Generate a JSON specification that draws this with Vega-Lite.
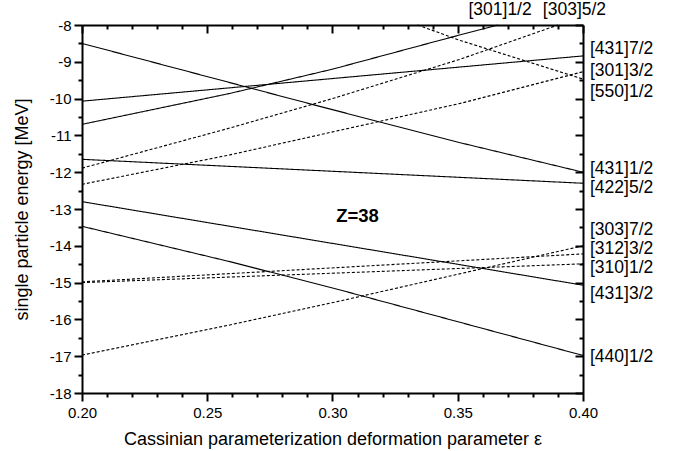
{
  "$schema": "https://vega.github.io/schema/vega-lite/v6.json",
  "width": 501,
  "height": 368,
  "autosize": {"type": "none"},
  "padding": {"left": 82, "top": 25, "right": 98, "bottom": 58},
  "background": "white",
  "config": {
    "view": {"stroke": null},
    "font": "Liberation Sans",
    "axis": {
      "grid": false,
      "domainColor": "black",
      "domainWidth": 2,
      "tickColor": "black",
      "labelColor": "black",
      "titleColor": "black",
      "labelFont": "Liberation Sans",
      "titleFont": "Liberation Sans",
      "labelFontSize": 15,
      "titleFontSize": 18,
      "titleFontWeight": "normal",
      "labelOverlap": false,
      "labelFlush": false,
      "labelBound": false
    }
  },
  "datasets": {
    "levels": [
      {"state": "[431]1/2", "kind": "solid", "eps": 0.20, "E": -8.50},
      {"state": "[431]1/2", "kind": "solid", "eps": 0.292, "E": -10.16},
      {"state": "[431]1/2", "kind": "solid", "eps": 0.351, "E": -11.20},
      {"state": "[431]1/2", "kind": "solid", "eps": 0.40, "E": -12.00},
      {"state": "[431]7/2", "kind": "solid", "eps": 0.20, "E": -10.07},
      {"state": "[431]7/2", "kind": "solid", "eps": 0.40, "E": -8.84},
      {"state": "[301]1/2", "kind": "solid", "eps": 0.20, "E": -10.70},
      {"state": "[301]1/2", "kind": "solid", "eps": 0.259, "E": -9.86},
      {"state": "[301]1/2", "kind": "solid", "eps": 0.30, "E": -9.20},
      {"state": "[301]1/2", "kind": "solid", "eps": 0.347, "E": -8.34},
      {"state": "[301]1/2", "kind": "solid", "eps": 0.366, "E": -8.00},
      {"state": "[422]5/2", "kind": "solid", "eps": 0.20, "E": -11.65},
      {"state": "[422]5/2", "kind": "solid", "eps": 0.40, "E": -12.30},
      {"state": "[431]3/2", "kind": "solid", "eps": 0.20, "E": -12.80},
      {"state": "[431]3/2", "kind": "solid", "eps": 0.40, "E": -15.07},
      {"state": "[440]1/2", "kind": "solid", "eps": 0.20, "E": -13.47},
      {"state": "[440]1/2", "kind": "solid", "eps": 0.259, "E": -14.43},
      {"state": "[440]1/2", "kind": "solid", "eps": 0.303, "E": -15.20},
      {"state": "[440]1/2", "kind": "solid", "eps": 0.40, "E": -16.98},
      {"state": "[303]5/2", "kind": "dashed", "eps": 0.20, "E": -11.89},
      {"state": "[303]5/2", "kind": "dashed", "eps": 0.259, "E": -10.80},
      {"state": "[303]5/2", "kind": "dashed", "eps": 0.30, "E": -10.00},
      {"state": "[303]5/2", "kind": "dashed", "eps": 0.351, "E": -8.93},
      {"state": "[303]5/2", "kind": "dashed", "eps": 0.39, "E": -8.00},
      {"state": "[301]3/2", "kind": "dashed", "eps": 0.20, "E": -12.33},
      {"state": "[301]3/2", "kind": "dashed", "eps": 0.259, "E": -11.53},
      {"state": "[301]3/2", "kind": "dashed", "eps": 0.351, "E": -10.13},
      {"state": "[301]3/2", "kind": "dashed", "eps": 0.40, "E": -9.27},
      {"state": "[550]1/2", "kind": "dashed", "eps": 0.334, "E": -8.00},
      {"state": "[550]1/2", "kind": "dashed", "eps": 0.351, "E": -8.42},
      {"state": "[550]1/2", "kind": "dashed", "eps": 0.40, "E": -9.47},
      {"state": "[303]7/2", "kind": "dashed", "eps": 0.20, "E": -16.97},
      {"state": "[303]7/2", "kind": "dashed", "eps": 0.259, "E": -16.15},
      {"state": "[303]7/2", "kind": "dashed", "eps": 0.303, "E": -15.50},
      {"state": "[303]7/2", "kind": "dashed", "eps": 0.40, "E": -14.00},
      {"state": "[312]3/2", "kind": "dashed", "eps": 0.20, "E": -14.98},
      {"state": "[312]3/2", "kind": "dashed", "eps": 0.40, "E": -14.22},
      {"state": "[310]1/2", "kind": "dashed", "eps": 0.20, "E": -15.00},
      {"state": "[310]1/2", "kind": "dashed", "eps": 0.40, "E": -14.49}
    ],
    "sideLabels": [
      {"label": "[431]7/2", "eps": 0.40, "E": -8.65},
      {"label": "[301]3/2", "eps": 0.40, "E": -9.24},
      {"label": "[550]1/2", "eps": 0.40, "E": -9.82},
      {"label": "[431]1/2", "eps": 0.40, "E": -11.90},
      {"label": "[422]5/2", "eps": 0.40, "E": -12.42},
      {"label": "[303]7/2", "eps": 0.40, "E": -13.57},
      {"label": "[312]3/2", "eps": 0.40, "E": -14.09},
      {"label": "[310]1/2", "eps": 0.40, "E": -14.61},
      {"label": "[431]3/2", "eps": 0.40, "E": -15.31},
      {"label": "[440]1/2", "eps": 0.40, "E": -17.01}
    ],
    "topLabels": [
      {"label": "[301]1/2", "eps": 0.3669, "E": -7.59},
      {"label": "[303]5/2", "eps": 0.3966, "E": -7.59}
    ],
    "note": [
      {"label": "Z=38", "eps": 0.310, "E": -13.19}
    ]
  },
  "layer": [
    {
      "data": {"name": "levels"},
      "mark": {"type": "line", "color": "black", "strokeWidth": 1.1},
      "encoding": {
        "x": {
          "field": "eps", "type": "quantitative",
          "scale": {"domain": [0.2, 0.4], "nice": false, "zero": false},
          "axis": {
            "orient": "bottom",
            "title": "Cassinian parameterization deformation parameter ε",
            "titleY": 51,
            "titleBaseline": "alphabetic",
            "values": [0.2, 0.21, 0.22, 0.23, 0.24, 0.25, 0.26, 0.27, 0.28, 0.29, 0.3, 0.31, 0.32, 0.33, 0.34, 0.35, 0.36, 0.37, 0.38, 0.39, 0.4],
            "labelExpr": "round(datum.value * 100) % 5 == 0 ? format(datum.value, '.2f') : ''",
            "tickSize": {"condition": {"test": "round(datum.value * 100) % 5 == 0", "value": 8}, "value": 4},
            "tickWidth": 2,
            "labelPadding": 4
          }
        },
        "y": {
          "field": "E", "type": "quantitative",
          "scale": {"domain": [-18, -8], "nice": false, "zero": false},
          "axis": {
            "orient": "left",
            "title": "single particle energy [MeV]",
            "titleX": -55,
            "titleBaseline": "alphabetic",
            "values": [-18, -17.5, -17, -16.5, -16, -15.5, -15, -14.5, -14, -13.5, -13, -12.5, -12, -11.5, -11, -10.5, -10, -9.5, -9, -8.5, -8],
            "labelExpr": "datum.value % 1 == 0 ? '-' + abs(datum.value) : ''",
            "tickSize": {"condition": {"test": "datum.value % 1 == 0", "value": 8}, "value": 4},
            "tickWidth": 2,
            "labelPadding": 3
          }
        },
        "detail": {"field": "state"},
        "strokeDash": {
          "field": "kind", "type": "nominal",
          "scale": {"domain": ["solid", "dashed"], "range": [[1, 0], [3, 2]]},
          "legend": null
        }
      }
    },
    {
      "data": {"name": "sideLabels"},
      "mark": {"type": "text", "align": "left", "baseline": "middle", "dx": 7, "fontSize": 17.5, "color": "black"},
      "encoding": {
        "x": {
          "field": "eps", "type": "quantitative",
          "axis": {
            "orient": "top",
            "title": null,
            "labels": false,
            "values": [0.2, 0.21, 0.22, 0.23, 0.24, 0.25, 0.26, 0.27, 0.28, 0.29, 0.3, 0.31, 0.32, 0.33, 0.34, 0.35, 0.36, 0.37, 0.38, 0.39, 0.4],
            "tickSize": {"condition": {"test": "round(datum.value * 100) % 5 == 0", "value": -8}, "value": -4},
            "tickWidth": 2
          }
        },
        "y": {
          "field": "E", "type": "quantitative",
          "axis": {
            "orient": "right",
            "title": null,
            "labels": false,
            "values": [-18, -17.5, -17, -16.5, -16, -15.5, -15, -14.5, -14, -13.5, -13, -12.5, -12, -11.5, -11, -10.5, -10, -9.5, -9, -8.5, -8],
            "tickSize": {"condition": {"test": "datum.value % 1 == 0", "value": -8}, "value": -4},
            "tickWidth": 2
          }
        },
        "text": {"field": "label"}
      }
    },
    {
      "data": {"name": "topLabels"},
      "mark": {"type": "text", "align": "center", "baseline": "middle", "fontSize": 17.5, "color": "black"},
      "encoding": {
        "x": {"field": "eps", "type": "quantitative", "axis": null},
        "y": {"field": "E", "type": "quantitative", "axis": null},
        "text": {"field": "label"}
      }
    },
    {
      "data": {"name": "note"},
      "mark": {"type": "text", "align": "center", "baseline": "middle", "fontSize": 18.5, "fontWeight": "bold", "color": "black"},
      "encoding": {
        "x": {"field": "eps", "type": "quantitative", "axis": null},
        "y": {"field": "E", "type": "quantitative", "axis": null},
        "text": {"field": "label"}
      }
    }
  ],
  "resolve": {"axis": {"x": "independent", "y": "independent"}}
}
